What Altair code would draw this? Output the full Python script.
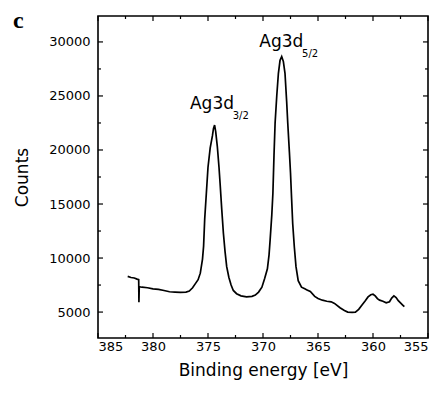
import altair as alt
import pandas as pd

# ---- spectrum (binding energy in eV, counts) ----
energy = [382.3, 382.0, 381.7, 381.45, 381.3, 381.28, 381.25, 381.0, 380.5, 380.0,
          379.5, 379.0, 378.5, 378.0, 377.5, 377.0, 376.7, 376.4, 376.1, 375.9,
          375.7, 375.5, 375.4, 375.3, 375.15, 375.0, 374.8, 374.6, 374.5, 374.4,
          374.3, 374.15, 374.0, 373.9, 373.75, 373.6, 373.45, 373.3, 373.1, 372.9,
          372.7, 372.4, 372.0, 371.5, 371.0, 370.7, 370.4, 370.1, 369.85, 369.6,
          369.45, 369.35, 369.2, 369.1, 369.0, 368.9, 368.75, 368.6, 368.45, 368.3,
          368.15, 368.0, 367.85, 367.75, 367.6, 367.5, 367.4, 367.3, 367.15, 367.0,
          366.8, 366.5, 366.2, 366.0, 365.7, 365.3, 365.0, 364.6, 364.2, 363.8,
          363.5, 363.0, 362.6, 362.3, 361.9, 361.6, 361.3, 361.0, 360.7, 360.45,
          360.2, 360.0, 359.8, 359.6, 359.4, 359.1, 358.8, 358.5, 358.3, 358.1,
          357.9, 357.7, 357.5, 357.3, 357.15]
counts = [8300, 8200, 8150, 8050, 8000, 5900, 7350, 7300, 7250, 7150,
          7100, 7000, 6880, 6850, 6830, 6850, 6950, 7250, 7700, 8000,
          8600, 9900, 11100, 13600, 16000, 18400, 20200, 21300, 22000, 22300,
          21700, 20300, 18400, 16900, 14500, 12300, 10600, 9200, 8200, 7500,
          7000, 6700, 6500, 6400, 6450, 6570, 6850, 7300, 8100, 9000,
          10300, 11700, 14000, 16000, 19500, 22500, 25000, 27100, 28300, 28650,
          28200, 27100, 24500, 22500, 19800, 17900, 15500, 13200, 11000, 9200,
          7900, 7300, 7150, 7050, 6900, 6450, 6250, 6100, 6000, 5950,
          5800, 5400, 5150, 5000, 4980, 5000, 5250, 5650, 6050, 6400,
          6600, 6650, 6500, 6250, 6100, 6000, 5850, 5950, 6300, 6500,
          6350, 6050, 5850, 5650, 5500]

x_major = [385, 380, 375, 370, 365, 360, 355]
x_minor = [382.5, 377.5, 372.5, 367.5, 362.5, 357.5]
y_major = [5000, 10000, 15000, 20000, 25000, 30000]
y_minor = [7500, 12500, 17500, 22500, 27500]

label_main = ["Ag3d", "Ag3d"]
label_sub = ["5/2", "3/2"]
label_x = [370.34, 376.64]
label_y = [29500, 23800]
sub_x = [366.45, 372.75]
sub_y = [28650, 22900]

W, H = 330, 322
FONT = "DejaVu Sans"
X_TITLE = "Binding energy [eV]"
Y_TITLE = "Counts"

xs = alt.Scale(domain=[355, 385], reverse=True, nice=False, zero=False)
ys = alt.Scale(domain=[2600, 32400], nice=False, zero=False)

X_AX = alt.Axis(values=x_major, format="d", ticks=False, domain=False,
                grid=False, labelPadding=2, titlePadding=9,
                labelFont=FONT, labelFontSize=13, labelColor="black",
                titleFont=FONT, titleFontSize=17, titleFontWeight="normal",
                titleColor="black")
Y_AX = alt.Axis(values=y_major, format="d", ticks=False, domain=False,
                grid=False, labelPadding=8, titlePadding=17,
                labelFont=FONT, labelFontSize=13, labelColor="black",
                titleFont=FONT, titleFontSize=17, titleFontWeight="normal",
                titleColor="black")


def ex(field):
    return alt.X(field, type="quantitative", scale=xs, axis=X_AX, title=X_TITLE)


def ey(field):
    return alt.Y(field, type="quantitative", scale=ys, axis=Y_AX, title=Y_TITLE)


spec_df = pd.DataFrame({"E": energy, "C": counts})

line = alt.Chart(spec_df).transform_window(idx="row_number()").mark_line(
    color="black", strokeWidth=1.7).encode(
    x=ex("E"), y=ey("C"), order="idx:Q")

layers = [line]


def xticks(vals, length):
    df = pd.DataFrame({"v": vals})
    bottom = alt.Chart(df).mark_rule(color="black", strokeWidth=1.2).encode(
        x=ex("v"), y=alt.value(H), y2=alt.value(H - length))
    top = alt.Chart(df).mark_rule(color="black", strokeWidth=1.2).encode(
        x=ex("v"), y=alt.value(0), y2=alt.value(length))
    return [bottom, top]


def yticks(vals, length):
    df = pd.DataFrame({"v": vals})
    left = alt.Chart(df).mark_rule(color="black", strokeWidth=1.2).encode(
        y=ey("v"), x=alt.value(0), x2=alt.value(length))
    right = alt.Chart(df).mark_rule(color="black", strokeWidth=1.2).encode(
        y=ey("v"), x=alt.value(W), x2=alt.value(W - length))
    return [left, right]


layers += xticks(x_major, 5) + xticks(x_minor, 3)
layers += yticks(y_major, 5) + yticks(y_minor, 3)

main_df = pd.DataFrame({"x": label_x, "y": label_y, "t": label_main})
sub_df = pd.DataFrame({"x": sub_x, "y": sub_y, "t": label_sub})

layers.append(alt.Chart(main_df).mark_text(
    font=FONT, fontSize=17, align="left", baseline="alphabetic", color="black").encode(
    x=ex("x"), y=ey("y"), text="t:N"))
layers.append(alt.Chart(sub_df).mark_text(
    font=FONT, fontSize=10, align="left", baseline="alphabetic", color="black").encode(
    x=ex("x"), y=ey("y"), text="t:N"))

panel = alt.Chart(pd.DataFrame({"t": ["c"]})).mark_text(
    font="Liberation Serif", fontSize=24, fontWeight="bold", align="left",
    baseline="alphabetic", color="black").encode(
    x=alt.value(-85), y=alt.value(12), text="t:N")
layers.append(panel)

chart = alt.layer(*layers).properties(
    width=W, height=H,
    autosize=alt.AutoSizeParams(type="none"),
    padding={"left": 98, "top": 16, "right": 10, "bottom": 55},
    background="white",
).configure_view(stroke="black", strokeWidth=1.6)

chart.save("out.html", embed_options={"renderer": "svg", "actions": False})
